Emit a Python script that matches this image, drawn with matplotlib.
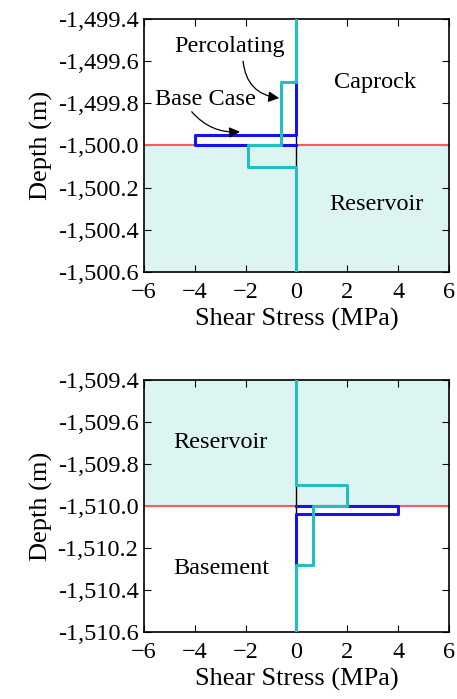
import matplotlib
matplotlib.use("Agg")
import matplotlib.pyplot as plt
from matplotlib.ticker import FuncFormatter, MultipleLocator

plt.rcParams['font.family'] = ['Liberation Serif', 'DejaVu Serif']
plt.rcParams['axes.unicode_minus'] = True

# ---- data ----
# top panel (caprock / reservoir interface at -1500.0)
top_perc_x = [0, 0, -0.6, -0.6, -1.9, -1.9, 0, 0]
top_perc_y = [-1499.4, -1499.7, -1499.7, -1500.0, -1500.0, -1500.1, -1500.1, -1500.6]
top_base_x = [0, 0, -4.0, -4.0, 0]
top_base_y = [-1499.4, -1499.95, -1499.95, -1500.0, -1500.0]
top_interface = -1500.0
top_ylim = (-1500.6, -1499.4)

# bottom panel (reservoir / basement interface at -1510.0)
bot_perc_x = [0, 0, 2.0, 2.0, 0.65, 0.65, 0, 0]
bot_perc_y = [-1509.4, -1509.9, -1509.9, -1510.0, -1510.0, -1510.28, -1510.28, -1510.6]
bot_base_x = [0, 4.0, 4.0, 0, 0]
bot_base_y = [-1510.0, -1510.0, -1510.04, -1510.04, -1510.6]
bot_interface = -1510.0
bot_ylim = (-1510.6, -1509.4)

xlim = (-6, 6)

teal = '#22bfbf'
blue = '#1414ee'
fill = '#dcf5f2'
red = '#ff5a5a'

TICK_FS = 17.5
LABEL_FS = 19
TEXT_FS = 17.5

fig = plt.figure(figsize=(4.57, 6.99), dpi=100)
ax1 = fig.add_axes([0.315, 0.611, 0.6675, 0.3618])
ax2 = fig.add_axes([0.315, 0.0959, 0.6675, 0.3605])

fmt = FuncFormatter(lambda v, p: '-' + format(abs(v), ',.1f'))

def style(ax, ylim):
    ax.set_xlim(*xlim)
    ax.set_ylim(*ylim)
    ax.xaxis.set_major_locator(MultipleLocator(2))
    ax.yaxis.set_major_locator(MultipleLocator(0.2))
    ax.yaxis.set_major_formatter(fmt)
    ax.tick_params(direction='in', top=True, right=True, length=5, labelsize=TICK_FS)
    ax.tick_params(axis='y', pad=4)
    ax.tick_params(axis='x', pad=7)
    for s in ax.spines.values():
        s.set_linewidth(1.2)
    ax.set_xlabel('Shear Stress (MPa)', fontsize=LABEL_FS, labelpad=4)
    ax.set_ylabel('Depth (m)', fontsize=LABEL_FS, labelpad=3)

def arrow(ax, start, tip, rad):
    ax.annotate('', xy=tip, xytext=start,
                arrowprops=dict(arrowstyle='-|>', color='black', lw=0.9,
                                mutation_scale=16,
                                connectionstyle='arc3,rad=%s' % rad,
                                shrinkA=0, shrinkB=0), zorder=6)

# top
ax1.axhspan(top_ylim[0], top_interface, color=fill, zorder=0, lw=0)
ax1.axvline(0, color='black', lw=1.0, zorder=1)
ax1.axhline(top_interface, color=red, lw=1.5, zorder=2)
ax1.plot(top_base_x, top_base_y, color=blue, lw=2.2, zorder=3)
ax1.plot(top_perc_x, top_perc_y, color=teal, lw=2.2, zorder=4)
ax1.text(3.1, -1499.70, 'Caprock', fontsize=TEXT_FS, ha='center', va='center')
ax1.text(3.15, -1500.28, 'Reservoir', fontsize=TEXT_FS, ha='center', va='center')
ax1.text(-2.65, -1499.53, 'Percolating', fontsize=TEXT_FS, ha='center', va='center')
ax1.text(-3.6, -1499.78, 'Base Case', fontsize=TEXT_FS, ha='center', va='center')
arrow(ax1, (-2.1, -1499.60), (-0.68, -1499.775), 0.4)
arrow(ax1, (-4.12, -1499.84), (-2.22, -1499.935), 0.25)
style(ax1, top_ylim)

# bottom
ax2.axhspan(bot_interface, bot_ylim[1], color=fill, zorder=0, lw=0)
ax2.axvline(0, color='black', lw=1.0, zorder=1)
ax2.axhline(bot_interface, color=red, lw=1.5, zorder=2)
ax2.plot(bot_base_x, bot_base_y, color=blue, lw=2.2, zorder=3)
ax2.plot(bot_perc_x, bot_perc_y, color=teal, lw=2.2, zorder=4)
ax2.text(-3.0, -1509.70, 'Reservoir', fontsize=TEXT_FS, ha='center', va='center')
ax2.text(-2.95, -1510.30, 'Basement', fontsize=TEXT_FS, ha='center', va='center')
style(ax2, bot_ylim)

fig.savefig('out.png', dpi=100)
